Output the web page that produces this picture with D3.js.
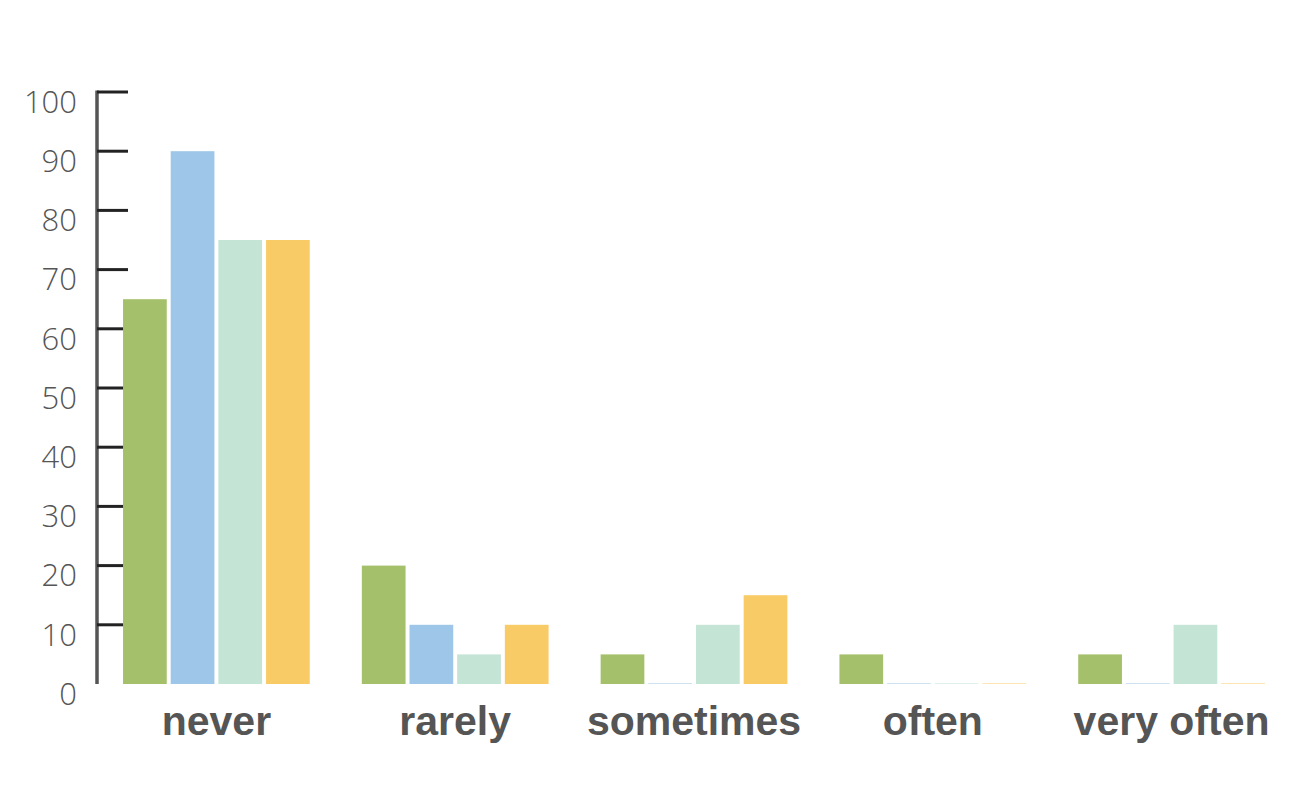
<!DOCTYPE html>
<html>
<head>
<meta charset="utf-8">
<script src="https://cdn.jsdelivr.net/npm/d3@7"></script>
<style>
  body { margin: 0; background: #fff; }
</style>
</head>
<body>
<div id="viz"></div>
<script>
const categories = ["never", "rarely", "sometimes", "often", "very often"];
const seriesKeys = ["s1", "s2", "s3", "s4"];
const s1 = [65, 20, 5, 5, 5];
const s2 = [90, 10, 0, 0, 0];
const s3 = [75, 5, 10, 0, 10];
const s4 = [75, 10, 15, 0, 0];
const yTicks = [0, 10, 20, 30, 40, 50, 60, 70, 80, 90, 100];

const seriesValues = { s1, s2, s3, s4 };
const colors = { s1: "#a5c06a", s2: "#9dc6e8", s3: "#c4e4d6", s4: "#f9cb67" };

const width = 1299;
const height = 793;
const margin = { top: 92, right: 8, bottom: 109, left: 97 };

const svg = d3.select("#viz")
    .append("svg")
    .attr("width", width)
    .attr("height", height);

const x = d3.scaleBand()
    .domain(categories)
    .range([margin.left, width - margin.right])
    .paddingInner(0.218)
    .paddingOuter(0.109);

const xInner = d3.scaleBand()
    .domain(seriesKeys)
    .range([0, x.bandwidth()])
    .paddingInner(0.083);

const y = d3.scaleLinear()
    .domain([0, 100])
    .range([height - margin.bottom, margin.top]);

//Y axis
const yAxisG = svg.append("g")
    .attr("transform", `translate(${margin.left},0)`);

yAxisG.append("line")
    .attr("x1", 0).attr("x2", 0)
    .attr("y1", y(100) - 1.5)
    .attr("y2", y(0))
    .attr("stroke", "#555")
    .attr("stroke-width", 3.5);

yAxisG.selectAll(".tick")
    .data(yTicks.filter(d => d > 0))
    .join("line")
    .attr("class", "tick")
    .attr("x1", 0).attr("x2", 31)
    .attr("y1", d => y(d)).attr("y2", d => y(d))
    .attr("stroke", "#222")
    .attr("stroke-width", 3);

svg.append("g")
    .selectAll("text")
    .data(yTicks)
    .join("text")
    .attr("x", 77)
    .attr("y", d => y(d) + 10)
    .attr("dy", "0.35em")
    .attr("text-anchor", "end")
    .attr("fill", "#555")
    .style("font", "300 31px 'Open Sans', sans-serif")
    .text(d => d);

//Bars (drawn over the lower ticks)
const groups = svg.append("g")
    .selectAll("g")
    .data(categories)
    .join("g")
    .attr("transform", d => `translate(${x(d)},0)`);

groups.selectAll("rect")
    .data((d, i) => seriesKeys.map(k => ({ key: k, value: seriesValues[k][i] })))
    .join("rect")
    .attr("x", d => xInner(d.key))
    .attr("width", xInner.bandwidth())
    .attr("y", d => d.value > 0 ? y(d.value) : y(0) - 1)
    .attr("height", d => d.value > 0 ? y(0) - y(d.value) : 1)
    .attr("fill", d => colors[d.key])
    .attr("opacity", d => d.value > 0 ? 1 : 0.5);

//Category labels
svg.append("g")
    .selectAll("text")
    .data(categories)
    .join("text")
    .attr("x", d => x(d) + x.bandwidth() / 2)
    .attr("y", 735)
    .attr("text-anchor", "middle")
    .attr("fill", "#555")
    .style("font", "bold 41px 'Liberation Sans', Arial, sans-serif")
    .text(d => d);
</script>
</body>
</html>
